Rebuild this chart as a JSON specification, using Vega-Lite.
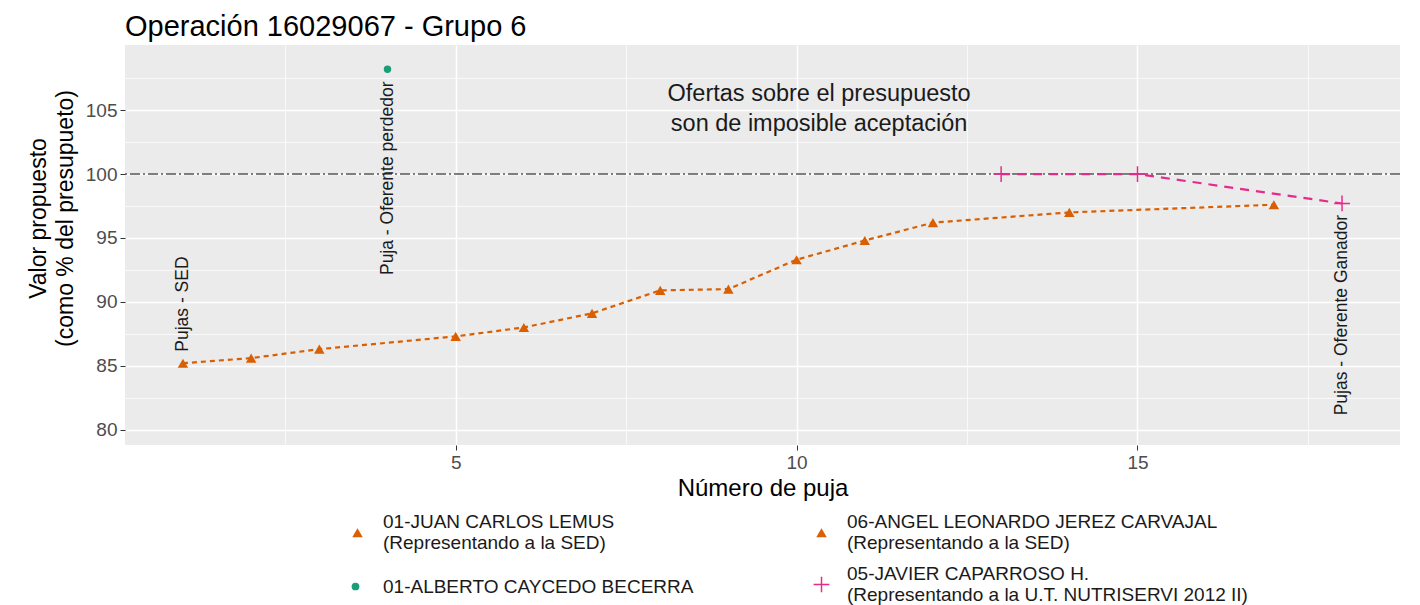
{
  "$schema": "https://vega.github.io/schema/vega-lite/v6.json",
  "autosize": "none",
  "width": 1275,
  "height": 400,
  "padding": {"left": 125, "top": 45, "right": 20, "bottom": 160},
  "background": "white",
  "title": {"text": "Operación 16029067 - Grupo 6", "anchor": "start", "frame": "group", "fontSize": 29, "font": "Liberation Sans", "fontWeight": "normal", "color": "#000000", "offset": 3},
  "config": {
    "font": "Liberation Sans",
    "view": {"fill": "#EBEBEB", "stroke": null},
    "axis": {"domain": false, "labelColor": "#4D4D4D", "labelFontSize": 19, "tickColor": "#333333", "tickSize": 5, "gridColor": "#FFFFFF", "titleFontSize": 24, "titleFontWeight": "normal", "titleColor": "#000000"}
  },
  "datasets": {
    "bids": [
      {"serie": "01-JUAN CARLOS LEMUS", "puja": 1, "valor": 85.2},
      {"serie": "01-JUAN CARLOS LEMUS", "puja": 2, "valor": 85.6},
      {"serie": "01-JUAN CARLOS LEMUS", "puja": 3, "valor": 86.3},
      {"serie": "01-JUAN CARLOS LEMUS", "puja": 5, "valor": 87.3},
      {"serie": "01-JUAN CARLOS LEMUS", "puja": 6, "valor": 88.0},
      {"serie": "01-JUAN CARLOS LEMUS", "puja": 7, "valor": 89.1},
      {"serie": "01-JUAN CARLOS LEMUS", "puja": 8, "valor": 90.9},
      {"serie": "01-JUAN CARLOS LEMUS", "puja": 9, "valor": 91.0},
      {"serie": "01-JUAN CARLOS LEMUS", "puja": 10, "valor": 93.3},
      {"serie": "01-JUAN CARLOS LEMUS", "puja": 11, "valor": 94.8},
      {"serie": "01-JUAN CARLOS LEMUS", "puja": 12, "valor": 96.2},
      {"serie": "01-JUAN CARLOS LEMUS", "puja": 14, "valor": 97.0},
      {"serie": "01-JUAN CARLOS LEMUS", "puja": 17, "valor": 97.6},
      {"serie": "01-ALBERTO CAYCEDO BECERRA", "puja": 4, "valor": 108.2},
      {"serie": "05-JAVIER CAPARROSO H.", "puja": 13, "valor": 100.0},
      {"serie": "05-JAVIER CAPARROSO H.", "puja": 15, "valor": 100.0},
      {"serie": "05-JAVIER CAPARROSO H.", "puja": 18, "valor": 97.7}
    ],
    "labels": [
      {"puja": 1, "valor": 86.1, "texto": "Pujas - SED", "lado": "bottom"},
      {"puja": 4, "valor": 92.1, "texto": "Puja - Oferente perdedor", "lado": "bottom"},
      {"puja": 18, "valor": 96.8, "texto": "Pujas - Oferente Ganador", "lado": "top"}
    ]
  },
  "encoding": {
    "x": {"field": "puja", "type": "quantitative", "scale": {"domain": [0.15, 18.85], "nice": false, "zero": false},
      "axis": {"title": "Número de puja", "values": [2.5, 5, 7.5, 10, 12.5, 15, 17.5], "labelExpr": "datum.value % 5 == 0 ? datum.label : ''",
        "tickOpacity": {"expr": "datum.value % 5 == 0 ? 1 : 0"}, "gridWidth": {"expr": "datum.value % 5 == 0 ? 1.5 : 0.7"}, "titlePadding": 4, "labelPadding": 3}},
    "y": {"field": "valor", "type": "quantitative", "scale": {"domain": [78.8, 110.1], "nice": false, "zero": false},
      "axis": {"title": ["Valor propuesto", "(como % del presupueto)"], "values": [80, 82.5, 85, 87.5, 90, 92.5, 95, 97.5, 100, 102.5, 105, 107.5],
        "labelExpr": "datum.value % 5 == 0 ? datum.label : ''", "tickOpacity": {"expr": "datum.value % 5 == 0 ? 1 : 0"},
        "gridWidth": {"expr": "datum.value % 5 == 0 ? 1.5 : 0.7"}, "titlePadding": 8, "labelPadding": 3, "titleLineHeight": 27, "titleFontSize": 23, "titleY": 173}}
  },
  "layer": [
    {
      "data": {"values": [{"valor": 100}]},
      "mark": {"type": "rule", "color": "#555555", "strokeWidth": 1.5, "strokeDash": [10, 3, 2, 3]},
      "encoding": {"x": null, "y": {"field": "valor", "type": "quantitative"}}
    },
    {
      "data": {"values": [{"puja": 10.33, "valor": 106.3, "texto": "Ofertas sobre el presupuesto\nson de imposible aceptación"}]},
      "mark": {"type": "text", "fontSize": 23.5, "lineBreak": "\n", "lineHeight": 30, "align": "center", "baseline": "middle", "color": "#1a1a1a"},
      "encoding": {"text": {"field": "texto"}}
    },
    {
      "data": {"name": "labels"},
      "transform": [{"filter": "datum.lado == 'bottom'"}],
      "mark": {"type": "text", "angle": 270, "align": "left", "baseline": "middle", "fontSize": 17.5, "color": "#1a1a1a"},
      "encoding": {"text": {"field": "texto"}}
    },
    {
      "data": {"name": "labels"},
      "transform": [{"filter": "datum.lado == 'top'"}],
      "mark": {"type": "text", "angle": 270, "align": "right", "baseline": "middle", "fontSize": 17.5, "color": "#1a1a1a"},
      "encoding": {"text": {"field": "texto"}}
    },
    {
      "data": {"name": "bids"},
      "mark": {"type": "line", "strokeWidth": 2.2},
      "encoding": {
        "stroke": {"field": "serie", "type": "nominal", "legend": null,
          "scale": {"domain": ["01-JUAN CARLOS LEMUS", "01-ALBERTO CAYCEDO BECERRA", "06-ANGEL LEONARDO JEREZ CARVAJAL", "05-JAVIER CAPARROSO H."],
            "range": ["#D95F02", "#1B9E77", "#D95F02", "#E7298A"]}},
        "strokeDash": {"field": "serie", "type": "nominal", "legend": null,
          "scale": {"domain": ["01-JUAN CARLOS LEMUS", "01-ALBERTO CAYCEDO BECERRA", "06-ANGEL LEONARDO JEREZ CARVAJAL", "05-JAVIER CAPARROSO H."],
            "range": [[5, 4], [1, 0], [5, 4], [9, 7]]}}
      }
    },
    {
      "data": {"name": "bids"},
      "transform": [{"filter": "datum.serie != '01-ALBERTO CAYCEDO BECERRA'"}],
      "mark": {"type": "point", "filled": true, "opacity": 1, "size": 110},
      "encoding": {
        "color": {"field": "serie", "type": "nominal",
          "scale": {"domain": ["01-JUAN CARLOS LEMUS", " ", "06-ANGEL LEONARDO JEREZ CARVAJAL", "05-JAVIER CAPARROSO H."],
            "range": ["#D95F02", "rgba(0,0,0,0)", "#D95F02", "#E7298A"]},
          "legend": {"title": null, "orient": "none", "legendX": 223, "legendY": 478, "padding": 0, "columns": 2, "columnPadding": 197, "rowPadding": 11,
            "labelFontSize": 19, "labelColor": "#1a1a1a", "labelLimit": 600, "symbolSize": 110, "labelOffset": 16, "labelBaseline": "line-bottom",
            "labelExpr": "datum.label == '01-JUAN CARLOS LEMUS' ? ['01-JUAN CARLOS LEMUS', '(Representando a la SED)'] : datum.label == '06-ANGEL LEONARDO JEREZ CARVAJAL' ? ['06-ANGEL LEONARDO JEREZ CARVAJAL', '(Representando a la SED)'] : datum.label == '05-JAVIER CAPARROSO H.' ? ['05-JAVIER CAPARROSO H.', '(Representando a la U.T. NUTRISERVI 2012 II)'] : ['', '']"}},
        "shape": {"field": "serie", "type": "nominal",
          "scale": {"domain": ["01-JUAN CARLOS LEMUS", " ", "06-ANGEL LEONARDO JEREZ CARVAJAL", "05-JAVIER CAPARROSO H."],
            "range": ["triangle-up", "circle", "triangle-up", "M-1.5,-0.14L1.5,-0.14L1.5,0.14L-1.5,0.14ZM-0.14,-1.5L0.14,-1.5L0.14,1.5L-0.14,1.5Z"]},
          "legend": {"title": null, "orient": "none", "legendX": 223, "legendY": 478, "padding": 0, "columns": 2, "columnPadding": 197, "rowPadding": 11,
            "labelFontSize": 19, "labelColor": "#1a1a1a", "labelLimit": 600, "symbolSize": 110, "labelOffset": 16, "labelBaseline": "line-bottom",
            "labelExpr": "datum.label == '01-JUAN CARLOS LEMUS' ? ['01-JUAN CARLOS LEMUS', '(Representando a la SED)'] : datum.label == '06-ANGEL LEONARDO JEREZ CARVAJAL' ? ['06-ANGEL LEONARDO JEREZ CARVAJAL', '(Representando a la SED)'] : datum.label == '05-JAVIER CAPARROSO H.' ? ['05-JAVIER CAPARROSO H.', '(Representando a la U.T. NUTRISERVI 2012 II)'] : ['', '']"}}
      }
    },
    {
      "data": {"name": "bids"},
      "transform": [{"filter": "datum.serie == '01-ALBERTO CAYCEDO BECERRA'"}],
      "mark": {"type": "point", "filled": true, "shape": "circle", "size": 55, "color": "#1B9E77"},
      "encoding": {
        "opacity": {"field": "serie", "type": "nominal", "scale": {"domain": ["01-ALBERTO CAYCEDO BECERRA"], "range": [1]},
          "legend": {"title": null, "orient": "none", "legendX": 221, "legendY": 532, "padding": 0, "labelFontSize": 19, "labelColor": "#1a1a1a", "labelLimit": 600,
            "symbolSize": 60, "labelOffset": 18, "labelBaseline": "middle", "symbolType": "circle", "symbolFillColor": "#1B9E77", "symbolStrokeWidth": 0}}
      }
    }
  ]
}
